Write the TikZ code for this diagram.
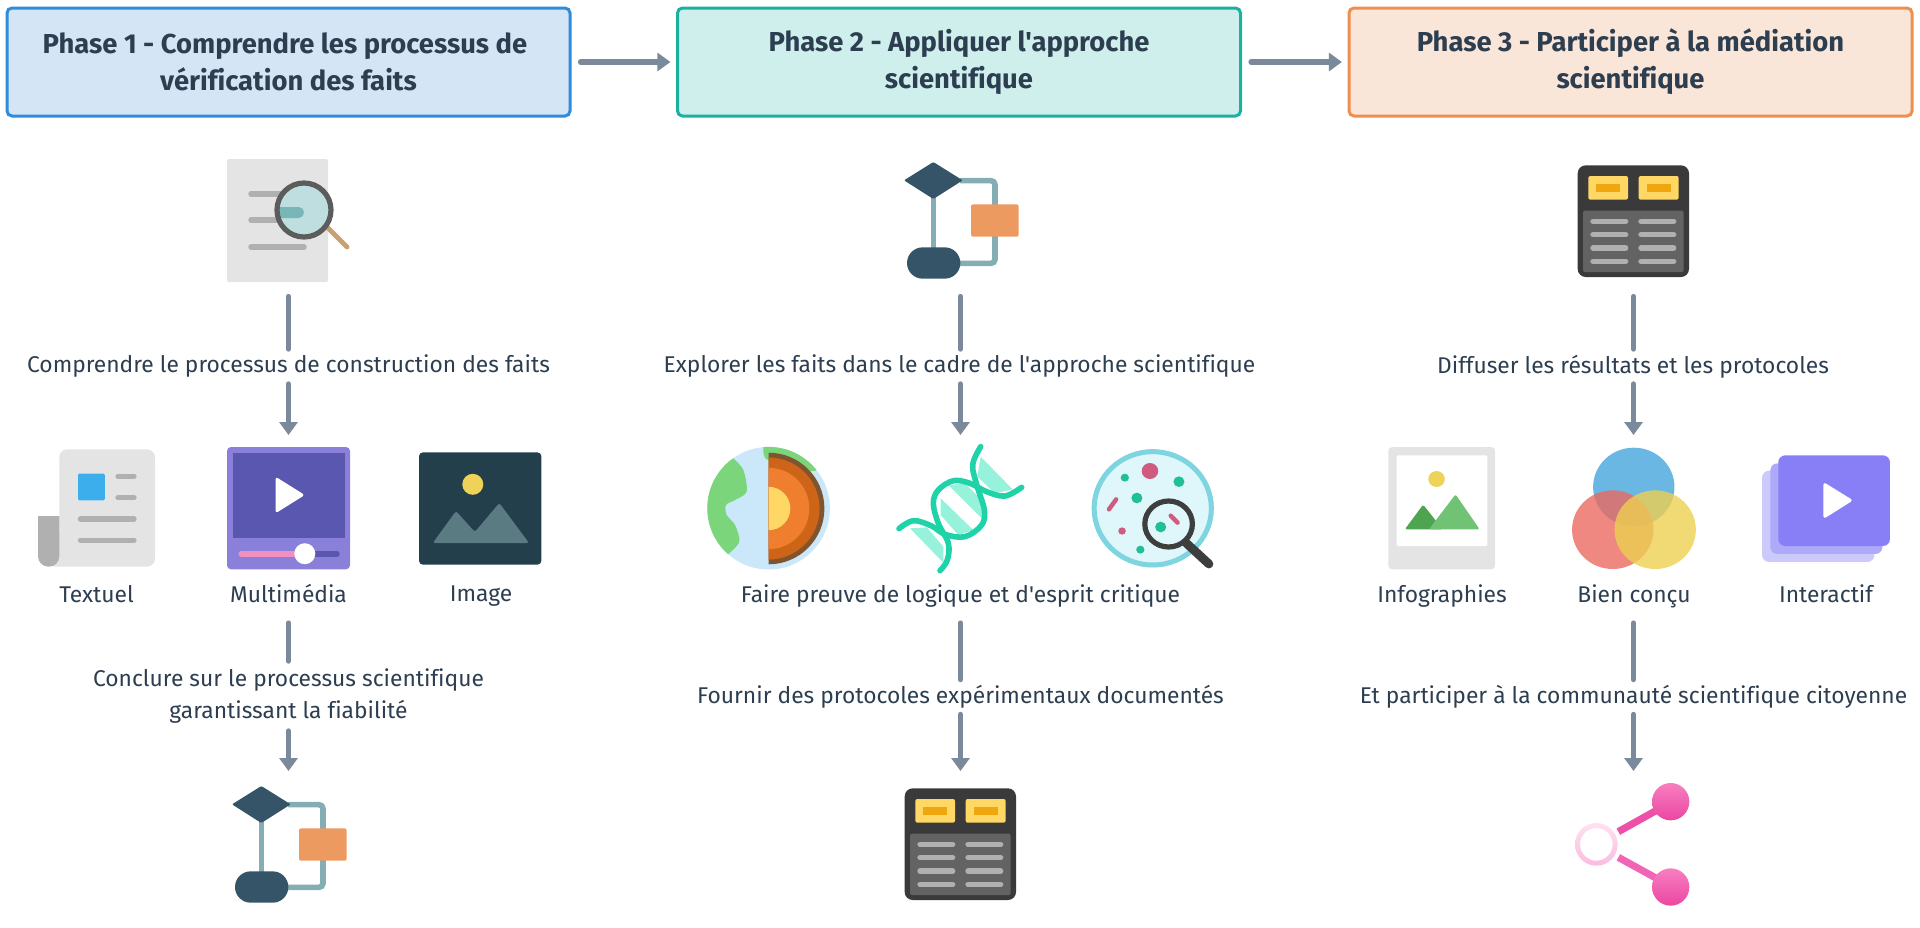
\documentclass[tikz,border=0pt]{standalone}
\usepackage{fontspec}
\setmainfont{Fira Sans}[Ligatures={TeXOff,CommonOff}]
\usetikzlibrary{arrows.meta}
\definecolor{ink}{HTML}{2C3E50}
\definecolor{arrowc}{HTML}{7B8A9A}
\definecolor{linkc}{HTML}{85AEB4}
\definecolor{navy}{HTML}{355467}
\definecolor{orangeb}{HTML}{EC9A60}
\definecolor{pageg}{HTML}{E4E4E4}
\definecolor{lineg}{HTML}{B0B0B0}
\definecolor{tblo}{HTML}{3A3A3A}
\definecolor{tbli}{HTML}{636363}
\definecolor{tbly}{HTML}{FFD764}
\definecolor{tblr}{HTML}{F0A70F}
\definecolor{sun}{HTML}{EFD358}
\definecolor{strand}{HTML}{1FD2A8}
\definecolor{rung}{HTML}{97F2DC}
\definecolor{germ}{HTML}{20BF95}
\definecolor{rose}{HTML}{CF5C80}
\definecolor{lens}{HTML}{DFF6FA}
\definecolor{pinkt}{HTML}{F77FC0}
\definecolor{pinkb}{HTML}{EC46A2}
\definecolor{ringt}{HTML}{FFE1F0}
\definecolor{ringb}{HTML}{FBBBE0}
\newcommand{\evn}{\vphantom{Xg}}
\tikzset{
  phase/.style={draw,line width=1.5pt,rounded corners=2.5pt,minimum width=281.5pt,minimum height=54pt,inner sep=0pt,
    align=center,text=ink,font=\fontsize{13.7}{18.5}\selectfont\bfseries},
  lab/.style={inner sep=0pt,text=ink,align=center,font=\fontsize{11.4}{15.7}\selectfont,minimum height=#1},
  lab/.default=17pt,
  conn/.style={draw=arrowc,line width=2.6pt,line cap=round},
  head/.style={conn,-{Triangle[length=6.5pt,width=9pt]}},
  pics/flowicon/.style={code={
    \begin{scope}[scale=1/3]
      \draw[linkc,line width=2.8pt] (160,100)--(160,340);
      \draw[linkc,line width=2.8pt,rounded corners=2pt] (240,92)--(345,92)--(345,340)--(230,340);
      \fill[navy,rounded corners=.5pt] (72,91)--(160,36)--(248,91)--(160,147)--cycle;
      \fill[navy,rounded corners=7.8pt] (81,292) rectangle (241,386);
      \fill[orangeb,rounded corners=1pt] (273,163) rectangle (416,260);
    \end{scope}}},
  pics/tableicon/.style={code={
    \begin{scope}[scale=1/3]
      \fill[tblo,rounded corners=4pt] (44,55) rectangle (378,390);
      \fill[tbli,rounded corners=1pt] (60,191) rectangle (362,375);
      \fill[tbly,rounded corners=1pt] (76,87) rectangle (195,158);
      \fill[tbly,rounded corners=1pt] (227,87) rectangle (347,158);
      \fill[tblr] (99,111) rectangle (171,135);
      \fill[tblr] (251,111) rectangle (323,135);
      \foreach \yy in {223,263,303,343}{
        \draw[lineg,line width=2.7pt,line cap=round] (90,\yy)--(188,\yy);
        \draw[lineg,line width=2.7pt,line cap=round] (234,\yy)--(332,\yy);}
    \end{scope}}}
}
\begin{document}
\begin{tikzpicture}[x={(0.5pt,0)},y={(0,-0.5pt)}]
\useasboundingbox (0,0) rectangle (1920,927);

% phase boxes
\node[phase,fill={rgb,255:red,212;green,230;blue,246},draw={rgb,255:red,46;green,139;blue,222}] (p1) at (288.5,62) {\vphantom{X}\raisebox{-.5pt}{Phase 1 - Comprendre les processus de}\kern3.5pt\\\raisebox{-.5pt}{vérification des faits}};
\node[phase,fill={rgb,255:red,207;green,239;blue,237},draw={rgb,255:red,27;green,176;blue,160}] (p2) at (959,62) {\raisebox{-.5pt}{Phase 2 - Appliquer l'approche}\\\raisebox{-.5pt}{scientifique}};
\node[phase,fill={rgb,255:red,250;green,229;blue,217},draw={rgb,255:red,239;green,143;blue,79}] (p3) at (1630.5,62) {\raisebox{-.5pt}{Phase 3 - Participer à la médiation}\\\raisebox{-.5pt}{scientifique}};
\draw[head,shorten >=2.8pt,shorten <=4.5pt] (p1.east) -- (p2.west);
\draw[head,shorten >=2.8pt,shorten <=4.5pt] (p2.east) -- (p3.west);

% ---- icon 1 : document + magnifier
\fill[pageg,rounded corners=1pt] (227,159) rectangle (328,282);
\foreach \yy in {194,220,247}{\draw[lineg,line width=2.7pt,line cap=round] (251,\yy)--(304,\yy);}
\draw[draw={rgb,255:red,201;green,160;blue,111},line width=2.4pt,line cap=round] (326,226)--(347,247);
\fill[fill={rgb,255:red,190;green,222;blue,223}] (304,210) circle (28);
\begin{scope}
  \clip (304,210) circle (28);
  \fill[fill={rgb,255:red,122;green,181;blue,183},rounded corners=2.7pt] (260,207) rectangle (304,218);
\end{scope}
\draw[draw={rgb,255:red,92;green,92;blue,92},line width=2.6pt] (304,210) circle (27);

% ---- icon 2 / 3 top and bottom
\pic at (880,150) {flowicon};
\pic at (208,774) {flowicon};
\pic at (890,770) {tableicon};
\pic at (1563,147) {tableicon};

% ---- newspaper
\fill[pageg,rounded corners=4pt] (48,566.7)--(155,566.7)--(155,449.3)--(59.3,449.3)--(59.3,540)--(48,540)--cycle;
\fill[lineg] (38,516) -- (59.3,516) [rounded corners=5.2pt] -- (59.3,566.7) -- (38,566.7) [sharp corners] -- cycle;
\fill[fill={rgb,255:red,60;green,174;blue,236},rounded corners=.6pt] (78,473.7) rectangle (104.8,500.3);
\foreach \yy in {476.3,497.7}{\draw[lineg,line width=2.7pt,line cap=round] (118,\yy)--(134,\yy);}
\foreach \yy in {519,540.3}{\draw[lineg,line width=2.7pt,line cap=round] (80.5,\yy)--(134,\yy);}

% ---- multimedia
\fill[fill={rgb,255:red,138;green,128;blue,217},rounded corners=2pt] (227,447) rectangle (350,569.3);
\fill[fill={rgb,255:red,89;green,87;blue,176}] (232.5,452.7) rectangle (344.8,537.7);
\fill[white,rounded corners=1.4pt] (275.5,476.7)--(304.8,495)--(275.5,513.3)--cycle;
\draw[draw={rgb,255:red,89;green,87;blue,176},line width=2.8pt,line cap=round] (241,553.7)--(337,553.7);
\draw[draw={rgb,255:red,240;green,143;blue,192},line width=2.8pt,line cap=round] (241,553.7)--(300,553.7);
\fill[white] (304.8,553.7) circle (10.5);

% ---- image
\fill[fill={rgb,255:red,35;green,63;blue,76},rounded corners=2pt] (419,452.3) rectangle (541.4,564.7);
\fill[sun] (472.8,484.3) circle (10.5);
\fill[fill={rgb,255:red,91;green,123;blue,131},rounded corners=1.2pt] (432.8,543)--(456,511)--(474.8,532)--(499.3,503)--(529,543)--cycle;

% ---- earth
\begin{scope}
  \fill[fill={rgb,255:red,203;green,232;blue,250}] (768.6,508.2) circle (61.3);
  \clip (768.6,508.2) circle (61.3);
  \begin{scope}[shift={(700,440)},scale=1/3]
    \fill[fill={rgb,255:red,123;green,214;blue,123}] plot[smooth,tension=.5] coordinates {(100,55)(130,90)(140,155)(105,180)(78,195)(80,225)(105,255)(118,305)(85,342)} -- (-30,345) -- (-30,50) -- cycle;
    \fill[fill={rgb,255:red,123;green,214;blue,123},rounded corners=2pt] (190,10)--(190,50)--(205,62)--(300,90)--(348,95)--(420,10)--cycle;
  \end{scope}
  \clip (768.6,440) rectangle (840,580);
  \fill[fill={rgb,255:red,127;green,85;blue,48}] (768.6,508.5) circle (55.8);
  \fill[fill={rgb,255:red,206;green,100;blue,24}] (768.6,508.5) circle (51);
  \fill[fill={rgb,255:red,239;green,126;blue,47}] (768.6,508.5) circle (40.7);
  \fill[fill={rgb,255:red,255;green,215;blue,100}] (768.6,508.5) circle (21.7);
\end{scope}

% ---- DNA
\begin{scope}[shift={(890,440)},scale=1/3]
  \fill[rung] (272,50)--(368,148)--(315,160)--(262,110)--cycle;
  \fill[rung] (175,135)--(225,130)--(280,185)--(280,240)--cycle;
  \fill[rung] (152,175)--(250,270)--(205,285)--(152,225)--cycle;
  \fill[rung] (60,265)--(110,262)--(160,320)--(160,368)--cycle;
  \draw[strand,line width=2.8pt,line cap=round] plot[smooth,tension=.6] coordinates {(27,266)(70,242)(125,258)(165,283)(225,290)(275,255)(283,210)(262,140)(248,75)(272,20)};
  \draw[strand,line width=2.8pt,line cap=round] plot[smooth,tension=.6] coordinates {(395,142)(345,168)(290,155)(240,130)(190,122)(145,150)(130,190)(145,250)(175,310)(172,360)(150,392)};
\end{scope}

% ---- petri dish (coordinates of the crop)
\begin{scope}[shift={(690,430)},xscale=.3448,yscale=.3333]
  \fill[lens] (1342,235) circle (177);
  \draw[draw={rgb,255:red,126;green,213;blue,224},line width=2.5pt] (1342,235) circle (170);
  \fill[rose] (1334,123) circle (24);
  \fill[germ] (1261,143) circle (12);
  \fill[germ] (1418,155) circle (16);
  \fill[germ] (1296,204) circle (16);
  \fill[rose] (1253,303) circle (11);
  \fill[germ] (1306,359) circle (12);
  \draw[rose,line width=2.2pt,line cap=round] (1215,238)--(1236,208);
  \fill[germ] (1365,291) circle (16);
  \draw[rose,line width=2.2pt,line cap=round] (1394,257)--(1414,278);
  \draw[draw={rgb,255:red,62;green,62;blue,62},line width=2.6pt] (1388,282) circle (69);
  \draw[draw={rgb,255:red,62;green,62;blue,62},line width=4.4pt,line cap=round] (1440,340)--(1505,402);
\end{scope}

% ---- infographic, venn, interactive (coordinates of the crop)
\begin{scope}[shift={(1360,430)},xscale=.3448,yscale=.3333]
  \fill[pageg,rounded corners=2pt] (82,51) rectangle (392,418);
  \fill[white,rounded corners=.6pt] (106,76) rectangle (369,348);
  \fill[sun] (222,147) circle (24);
  \fill[fill={rgb,255:red,79;green,165;blue,79},rounded corners=1pt] (130,298)--(183,224)--(240,298)--cycle;
  \fill[fill={rgb,255:red,112;green,194;blue,116},rounded corners=1pt] (200,298)--(277,193)--(347,298)--cycle;
  \fill[fill={rgb,255:red,107;green,183;blue,228}] (794,171) circle (118);
  \fill[fill={rgb,255:red,235;green,106;blue,96},fill opacity=.8] (733,299) circle (118);
  \fill[fill={rgb,255:red,237;green,207;blue,81},fill opacity=.8] (856,299) circle (118);
  \fill[fill={rgb,255:red,204;green,201;blue,251},rounded corners=3.5pt] (1166,122) rectangle (1492,396);
  \fill[fill={rgb,255:red,174;green,169;blue,248},rounded corners=3.5pt] (1190,100) rectangle (1515,372);
  \fill[fill={rgb,255:red,136;green,127;blue,247},rounded corners=3.5pt] (1213,76) rectangle (1537,348);
  \fill[white,rounded corners=1.4pt] (1344,156)--(1430,211)--(1344,267)--cycle;
\end{scope}

% ---- share icon
\begin{scope}[shift={(1560,770)},scale=1/3]
  \draw[draw={rgb,255:red,236;green,80;blue,168},line width=3.6pt] (175,185)--(295,118);
  \draw[draw={rgb,255:red,240;green,101;blue,181},line width=3.6pt] (175,262)--(295,328);
  \shade[top color=pinkt,bottom color=pinkb] (332,95) circle (56);
  \shade[top color=pinkt,bottom color=pinkb] (332,351) circle (56);
  \shade[top color=ringt,bottom color=ringb,even odd rule] (109,223) circle (64) (109,223) circle (49);
\end{scope}

% ---- texts
\node[lab] (a1) at (288.5,366.5) {\evn Comprendre le processus de construction des faits};
\node[lab=26.6pt] (a2) at (96.5,596) {\evn Textuel};
\node[lab=26.6pt] (a3) at (288.5,596) {\evn Multimédia};
\node[lab=26.6pt] (a4) at (481,596) {\evn Image};
\node[lab=34.5pt] (a5) at (288.5,696) {\evn Conclure sur le processus scientifique\\\evn garantissant la fiabilité};

\node[lab] (b1) at (959.5,366.5) {\evn Explorer les faits dans le cadre de l'approche scientifique};
\node[lab=26.6pt] (b2) at (960.5,596) {\evn Faire preuve de logique et d'esprit critique};
\node[lab] (b3) at (960.5,697) {\evn Fournir des protocoles expérimentaux documentés};

\node[lab] (c1) at (1633,366.5) {\evn Diffuser les résultats et les protocoles};
\node[lab=26.6pt] (c2) at (1442,596) {\evn Infographies};
\node[lab=26.6pt] (c3) at (1634,596) {\evn Bien conçu};
\node[lab=26.6pt] (c4) at (1826,596) {\evn Interactif};
\node[lab] (c5) at (1633.5,697) {\evn Et participer à la communauté scientifique citoyenne};

% ---- connector ends
\coordinate (a0) at (288.5,296.5);
\coordinate (a9) at (288.5,435);
\coordinate (aa) at (288.5,771);
\coordinate (b0) at (960.5,296.5);
\coordinate (b9) at (960.5,435);
\coordinate (bb) at (960.5,771);
\coordinate (c0) at (1633.5,296.5);
\coordinate (c9) at (1633.5,435);
\coordinate (cc) at (1633.5,771);

\draw[conn] (a0) -- (a0 |- a1.north);
\draw[head] (a1.south -| a9) -- (a9);
\draw[conn] (a3.south) -- (a5.north);
\draw[head] (a5.south) -- (aa);

\draw[conn] (b0) -- (b0 |- b1.north);
\draw[head] (b1.south -| b9) -- (b9);
\draw[conn] (b2.south) -- (b3.north);
\draw[head] (b3.south) -- (bb);

\draw[conn] (c0) -- (c0 |- c1.north);
\draw[head] (c1.south -| c9) -- (c9);
\draw[conn] (c3.south -| c0) -- (c5.north -| c0);
\draw[head] (c5.south -| c0) -- (cc);
\end{tikzpicture}
\end{document}
